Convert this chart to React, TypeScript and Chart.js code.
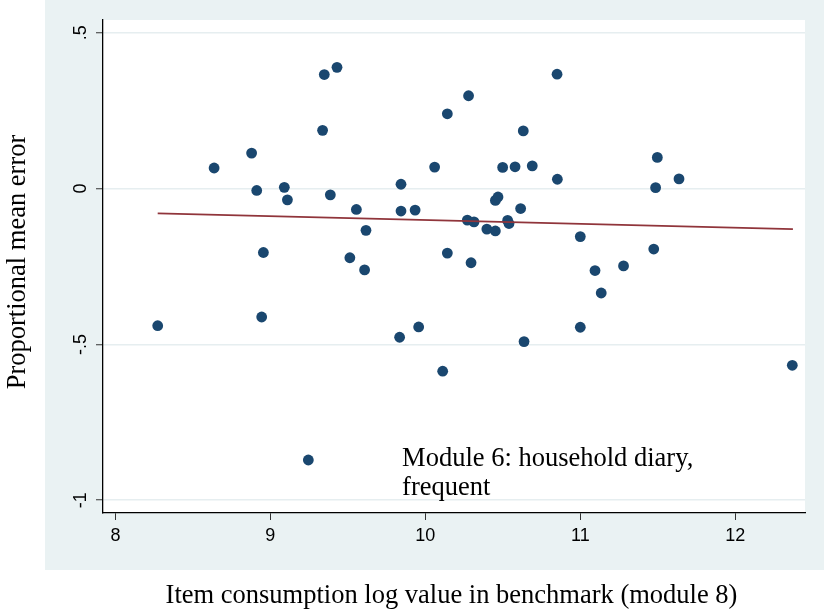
import React, { useEffect, useRef } from 'react';
import { Chart, registerables } from 'chart.js';

Chart.register(...registerables);

// Scatter points (item log value in benchmark vs proportional mean error)
const X_VALUES = [
  8.273, 8.637, 8.879, 8.912, 8.955, 8.944, 9.090, 9.110, 9.245, 9.337,
  9.348, 9.430, 9.387, 9.555, 9.617, 9.513, 9.608, 9.834, 9.843, 9.843,
  9.934, 9.957, 10.060, 10.112, 10.142, 10.142, 10.279, 10.295, 10.271, 10.314,
  10.397, 10.452, 10.452, 10.469, 10.499, 10.579, 10.690, 10.632, 10.615, 10.531,
  10.540, 10.637, 10.850, 10.852, 11.000, 11.000, 11.095, 11.135, 11.279, 11.474,
  11.497, 11.486, 11.637, 12.368,
];
const Y_VALUES = [
  -0.440, 0.066, 0.114, -0.006, -0.205, -0.412, 0.004, -0.036, -0.871, 0.187,
  0.366, 0.389, -0.020, -0.067, -0.134, -0.222, -0.261, -0.477, 0.014, -0.072,
  -0.069, -0.444, 0.069, -0.586, 0.240, -0.207, 0.298, -0.238, -0.101, -0.107,
  -0.130, -0.136, -0.038, -0.027, 0.068, 0.070, 0.073, 0.185, -0.064, -0.102,
  -0.112, -0.491, 0.367, 0.030, -0.154, -0.445, -0.263, -0.335, -0.248, -0.194,
  0.100, 0.003, 0.031, -0.567,
];

// Linear fit endpoints
const FIT_X = [8.273, 12.372];
const FIT_Y = [-0.0796, -0.130];

const X_TICKS = [8, 9, 10, 11, 12];
const Y_TICKS = [-1, -0.5, 0, 0.5];
const Y_TICK_LABELS = ['-1', '-.5', '0', '.5'];

const X_TITLE = 'Item consumption log value in benchmark (module 8)';
const Y_TITLE = 'Proportional mean error';
const NOTE_LINES = ['Module 6: household diary,', 'frequent'];
const NOTE_X = 9.85;
const NOTE_Y = -0.89;

const OUTER_BG = '#EAF2F3';
const GRID_COLOR = '#E6EEF0';
const DOT_COLOR = '#1A476F';
const FIT_COLOR = '#90353B';
const SERIF = '"Liberation Serif", "Times New Roman", serif';
const SANS = '"Liberation Sans", Arial, sans-serif';

const decorPlugin = {
  id: 'decor',
  beforeDraw(chart: any) {
    const { ctx, chartArea: a, width, height } = chart;
    ctx.save();
    ctx.fillStyle = '#ffffff';
    ctx.fillRect(0, 0, width, height);
    ctx.fillStyle = OUTER_BG;
    ctx.fillRect(45, 0, width - 45, 570);
    ctx.fillStyle = '#ffffff';
    ctx.fillRect(a.left, a.top, a.right - a.left, a.bottom - a.top);
    ctx.restore();
  },
  afterDraw(chart: any) {
    const { ctx } = chart;
    const xs = chart.scales.x;
    const ys = chart.scales.y;
    ctx.save();
    ctx.fillStyle = '#000';
    ctx.font = `26.5px ${SERIF}`;
    ctx.textBaseline = 'alphabetic';
    // x title
    ctx.textAlign = 'center';
    ctx.fillText(X_TITLE, 451.5, 603);
    // y title
    ctx.save();
    ctx.translate(25, 262);
    ctx.rotate(-Math.PI / 2);
    ctx.fillText(Y_TITLE, 0, 0);
    ctx.restore();
    // annotation
    ctx.textAlign = 'left';
    const nx = xs.getPixelForValue(NOTE_X);
    const ny = ys.getPixelForValue(NOTE_Y);
    NOTE_LINES.forEach((line, i) => {
      ctx.fillText(line, nx, ny + i * 29);
    });
    ctx.restore();
  },
};

export default function App() {
  const ref = useRef<HTMLCanvasElement | null>(null);

  useEffect(() => {
    document.body.style.margin = '0';
    if (!ref.current) return;
    const points = X_VALUES.map((x, i) => ({ x, y: Y_VALUES[i] }));
    const fit = FIT_X.map((x, i) => ({ x, y: FIT_Y[i] }));
    const chart = new Chart(ref.current, {
      type: 'scatter',
      data: {
        datasets: [
          {
            type: 'line',
            data: fit,
            borderColor: FIT_COLOR,
            borderWidth: 1.6,
            pointRadius: 0,
            fill: false,
          } as any,
          {
            data: points,
            backgroundColor: DOT_COLOR,
            borderWidth: 0,
            pointRadius: 5.4,
          },
        ],
      },
      options: {
        animation: false,
        responsive: false,
        events: [],
        layout: { padding: { top: 20, right: 19, left: 0, bottom: 0 } },
        plugins: { legend: { display: false }, tooltip: { enabled: false } },
        scales: {
          x: {
            type: 'linear',
            min: 7.92,
            max: 12.45,
            afterBuildTicks: (s: any) => {
              s.ticks = X_TICKS.map((v) => ({ value: v }));
            },
            afterFit: (s: any) => {
              s.height = 97;
            },
            grid: {
              drawOnChartArea: false,
              drawTicks: true,
              tickLength: 7,
              tickColor: '#333',
              tickWidth: 1,
            },
            border: { display: true, color: '#000', width: 1.3 },
            ticks: {
              autoSkip: false,
              maxRotation: 0,
              padding: 5,
              color: '#000',
              font: { family: SANS, size: 18 },
            },
          },
          y: {
            type: 'linear',
            min: -1.041,
            max: 0.541,
            afterBuildTicks: (s: any) => {
              s.ticks = Y_TICKS.map((v) => ({ value: v }));
            },
            afterFit: (s: any) => {
              s.width = 103;
            },
            grid: {
              drawOnChartArea: true,
              color: GRID_COLOR,
              lineWidth: 1.5,
              drawTicks: true,
              tickLength: 7,
              tickColor: '#333',
              tickWidth: 1,
            },
            border: { display: true, color: '#000', width: 1.3 },
            ticks: {
              autoSkip: false,
              minRotation: 90,
              maxRotation: 90,
              crossAlign: 'center',
              padding: 4,
              color: '#000',
              font: { family: SANS, size: 18 },
              callback: (v: any) => {
                const i = Y_TICKS.indexOf(Number(v));
                return i >= 0 ? Y_TICK_LABELS[i] : '';
              },
            },
          },
        },
      },
      plugins: [decorPlugin],
    });
    return () => chart.destroy();
  }, []);

  return (
    <div style={{ width: 824, height: 610 }}>
      <canvas ref={ref} width={824} height={610} style={{ display: 'block' }} />
    </div>
  );
}
